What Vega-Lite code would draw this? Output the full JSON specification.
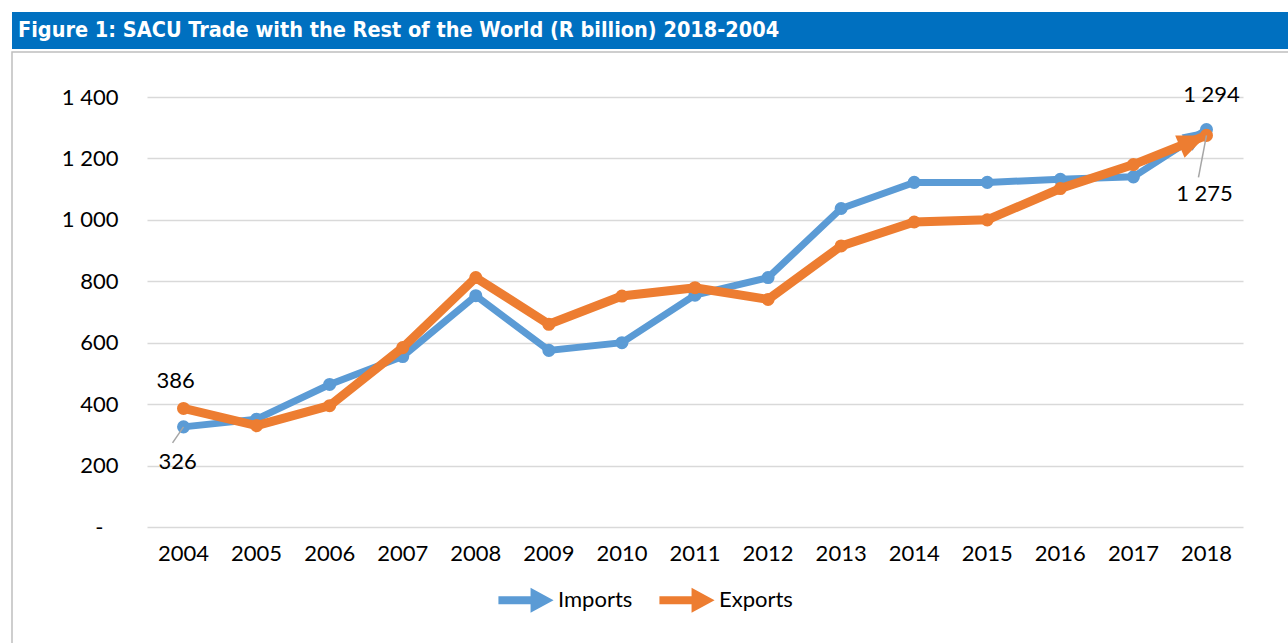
{
  "$schema": "https://vega.github.io/schema/vega-lite/v6.json",
  "width": 1096,
  "height": 430,
  "autosize": {"type": "none"},
  "padding": {"left": 147, "top": 97, "right": 45, "bottom": 116},
  "background": "white",
  "config": {
    "locale": {"number": {"decimal": ".", "thousands": " ", "grouping": [3], "currency": ["", ""]}},
    "view": {"stroke": null},
    "font": "Lato",
    "axisX": {"labelAngle": 0, "labelFont": "Lato", "labelFontSize": 22, "labelColor": "#000000", "labelPadding": 16, "domain": false, "ticks": false, "grid": false, "title": null},
    "axisY": {"labelFont": "Lato", "labelFontSize": 22, "labelColor": "#000000", "labelPadding": 29, "domain": false, "ticks": false, "grid": true, "gridColor": "#D9D9D9", "gridWidth": 1.5, "title": null},
    "legend": {
      "orient": "none", "legendX": 355, "legendY": 479, "direction": "horizontal", "title": null,
      "symbolType": "M-1.15,-0.17L0.19,-0.17L0.19,-0.52L1.15,0L0.19,0.52L0.19,0.17L-1.15,0.17Z",
      "symbolSize": 2300, "symbolStrokeWidth": 0, "labelFont": "Lato", "labelFontSize": 22, "labelColor": "#000000",
      "labelOffset": 8, "columnPadding": 26, "padding": 0
    }
  },
  "data": {
    "values": [
      {"year": 2004, "series": "Imports", "value": 326},
      {"year": 2005, "series": "Imports", "value": 351},
      {"year": 2006, "series": "Imports", "value": 464},
      {"year": 2007, "series": "Imports", "value": 555},
      {"year": 2008, "series": "Imports", "value": 753},
      {"year": 2009, "series": "Imports", "value": 575},
      {"year": 2010, "series": "Imports", "value": 600},
      {"year": 2011, "series": "Imports", "value": 755},
      {"year": 2012, "series": "Imports", "value": 812},
      {"year": 2013, "series": "Imports", "value": 1037},
      {"year": 2014, "series": "Imports", "value": 1122},
      {"year": 2015, "series": "Imports", "value": 1122},
      {"year": 2016, "series": "Imports", "value": 1132},
      {"year": 2017, "series": "Imports", "value": 1140},
      {"year": 2018, "series": "Imports", "value": 1294},
      {"year": 2004, "series": "Exports", "value": 386},
      {"year": 2005, "series": "Exports", "value": 330},
      {"year": 2006, "series": "Exports", "value": 395},
      {"year": 2007, "series": "Exports", "value": 584},
      {"year": 2008, "series": "Exports", "value": 812},
      {"year": 2009, "series": "Exports", "value": 660},
      {"year": 2010, "series": "Exports", "value": 752},
      {"year": 2011, "series": "Exports", "value": 779},
      {"year": 2012, "series": "Exports", "value": 741},
      {"year": 2013, "series": "Exports", "value": 915},
      {"year": 2014, "series": "Exports", "value": 993},
      {"year": 2015, "series": "Exports", "value": 1000},
      {"year": 2016, "series": "Exports", "value": 1102},
      {"year": 2017, "series": "Exports", "value": 1180},
      {"year": 2018, "series": "Exports", "value": 1275}
    ]
  },
  "layer": [
    {
      "data": {"values": [{}]},
      "mark": {"type": "rect", "fill": null, "stroke": "#BFBFBF", "strokeWidth": 1.5},
      "encoding": {"x": {"value": -135}, "x2": {"value": 1170}, "y": {"value": -45}, "y2": {"value": 570}}
    },
    {
      "data": {"values": [{}]},
      "mark": {"type": "rect", "fill": "#0070C0"},
      "encoding": {"x": {"value": -135}, "x2": {"value": 1170}, "y": {"value": -85}, "y2": {"value": -48}}
    },
    {
      "data": {"values": [{}]},
      "mark": {"type": "text", "text": "Figure 1: SACU Trade with the Rest of the World (R billion) 2018-2004", "font": "DejaVu Sans Condensed", "fontWeight": "bold", "fontSize": 21.5, "fill": "#FFFFFF", "align": "left", "baseline": "middle"},
      "encoding": {"x": {"value": -129}, "y": {"value": -66}}
    },
    {
      "transform": [{"filter": "datum.series == 'Imports'"}],
      "mark": {"type": "line", "color": "#5B9BD5", "strokeWidth": 7},
      "encoding": {
        "x": {"field": "year", "type": "ordinal", "axis": {}},
        "y": {"field": "value", "type": "quantitative", "scale": {"domain": [0, 1400], "nice": false},
              "axis": {"values": [0, 200, 400, 600, 800, 1000, 1200, 1400],
                       "labelPadding": {"condition": {"test": "datum.value == 0", "value": 44}, "value": 29},
                       "labelExpr": "datum.value == 0 ? '-' : replace(format(datum.value, ','), ',', ' ')"}}
      }
    },
    {
      "transform": [{"filter": "datum.series == 'Imports'"}],
      "mark": {"type": "point", "filled": true, "size": 170, "opacity": 1},
      "encoding": {
        "x": {"field": "year", "type": "ordinal"},
        "y": {"field": "value", "type": "quantitative"},
        "color": {"field": "series", "type": "nominal", "scale": {"domain": ["Imports", "Exports"], "range": ["#5B9BD5", "#ED7D31"]}}
      }
    },
    {
      "transform": [{"filter": "datum.series == 'Imports' && datum.year == 2018"}],
      "mark": {"type": "point", "shape": "M0,0L-2.4,-1L-2.4,1Z", "filled": true, "size": 380, "angle": 326, "color": "#5B9BD5", "opacity": 1},
      "encoding": {
        "x": {"field": "year", "type": "ordinal"},
        "y": {"field": "value", "type": "quantitative"}
      }
    },
    {
      "transform": [{"filter": "datum.series == 'Exports'"}],
      "mark": {"type": "line", "color": "#ED7D31", "strokeWidth": 9},
      "encoding": {
        "x": {"field": "year", "type": "ordinal"},
        "y": {"field": "value", "type": "quantitative"}
      }
    },
    {
      "transform": [{"filter": "datum.series == 'Exports'"}],
      "mark": {"type": "point", "filled": true, "size": 170, "opacity": 1},
      "encoding": {
        "x": {"field": "year", "type": "ordinal"},
        "y": {"field": "value", "type": "quantitative"},
        "color": {"field": "series", "type": "nominal"}
      }
    },
    {
      "transform": [{"filter": "datum.series == 'Exports' && datum.year == 2018"}],
      "mark": {"type": "point", "shape": "M0,0L-2.4,-1L-2.4,1Z", "filled": true, "size": 580, "angle": 337, "color": "#ED7D31", "opacity": 1},
      "encoding": {
        "x": {"field": "year", "type": "ordinal"},
        "y": {"field": "value", "type": "quantitative"}
      }
    },
    {
      "transform": [{"filter": "datum.series == 'Imports' && datum.year == 2004"}],
      "mark": {"type": "rule", "color": "#A6A6A6", "strokeWidth": 1.5, "x2Offset": -11, "y2Offset": 16},
      "encoding": {
        "x": {"field": "year", "type": "ordinal"},
        "x2": {"field": "year"},
        "y": {"field": "value", "type": "quantitative"},
        "y2": {"field": "value"}
      }
    },
    {
      "transform": [{"filter": "datum.series == 'Exports' && datum.year == 2018"}],
      "mark": {"type": "rule", "color": "#A6A6A6", "strokeWidth": 1.5, "x2Offset": -8, "y2Offset": 42},
      "encoding": {
        "x": {"field": "year", "type": "ordinal"},
        "x2": {"field": "year"},
        "y": {"field": "value", "type": "quantitative"},
        "y2": {"field": "value"}
      }
    },
    {
      "transform": [{"filter": "datum.series == 'Exports' && datum.year == 2004"}],
      "mark": {"type": "text", "font": "Lato", "fontSize": 22, "color": "#000000", "align": "center", "baseline": "middle", "dx": -8, "dy": -27},
      "encoding": {
        "x": {"field": "year", "type": "ordinal"},
        "y": {"field": "value", "type": "quantitative"},
        "text": {"field": "value", "type": "quantitative", "format": ","}
      }
    },
    {
      "transform": [{"filter": "datum.series == 'Imports' && datum.year == 2004"}],
      "mark": {"type": "text", "font": "Lato", "fontSize": 22, "color": "#000000", "align": "center", "baseline": "middle", "dx": -6, "dy": 35},
      "encoding": {
        "x": {"field": "year", "type": "ordinal"},
        "y": {"field": "value", "type": "quantitative"},
        "text": {"field": "value", "type": "quantitative", "format": ","}
      }
    },
    {
      "transform": [{"filter": "datum.series == 'Imports' && datum.year == 2018"}],
      "mark": {"type": "text", "font": "Lato", "fontSize": 22, "color": "#000000", "align": "center", "baseline": "middle", "dx": 5, "dy": -35},
      "encoding": {
        "x": {"field": "year", "type": "ordinal"},
        "y": {"field": "value", "type": "quantitative"},
        "text": {"field": "value", "type": "quantitative", "format": ","}
      }
    },
    {
      "transform": [{"filter": "datum.series == 'Exports' && datum.year == 2018"}],
      "mark": {"type": "text", "font": "Lato", "fontSize": 22, "color": "#000000", "align": "center", "baseline": "middle", "dx": -2, "dy": 59},
      "encoding": {
        "x": {"field": "year", "type": "ordinal"},
        "y": {"field": "value", "type": "quantitative"},
        "text": {"field": "value", "type": "quantitative", "format": ","}
      }
    }
  ]
}
